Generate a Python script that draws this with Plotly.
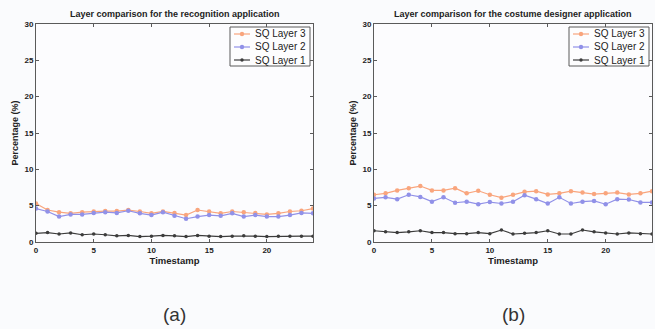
import plotly.graph_objects as go

timestamps = list(range(25))

# (a) recognition application
rec_layer3 = [5.3, 4.4, 4.1, 3.95, 4.1, 4.2, 4.25, 4.25, 4.4, 4.2, 3.95, 4.2, 4.0,
              3.7, 4.4, 4.2, 3.95, 4.2, 4.1, 4.0, 3.8, 3.95, 4.2, 4.3, 4.6]
rec_layer2 = [4.6, 4.2, 3.5, 3.8, 3.8, 4.0, 4.1, 4.0, 4.3, 3.95, 3.7, 4.1, 3.6,
              3.2, 3.5, 3.7, 3.6, 3.95, 3.5, 3.7, 3.5, 3.5, 3.7, 4.0, 3.95]
rec_layer1 = [1.2, 1.3, 1.1, 1.25, 1.0, 1.1, 1.0, 0.85, 0.9, 0.75, 0.8, 0.9, 0.85,
              0.75, 0.9, 0.8, 0.75, 0.8, 0.85, 0.8, 0.75, 0.8, 0.8, 0.8, 0.8]

# (b) costume designer application
cos_layer3 = [6.5, 6.7, 7.1, 7.4, 7.7, 7.1, 7.1, 7.4, 6.7, 7.05, 6.5, 6.1, 6.5,
              6.9, 7.0, 6.55, 6.7, 7.0, 6.8, 6.6, 6.7, 6.8, 6.55, 6.7, 7.0]
cos_layer2 = [6.0, 6.15, 5.9, 6.5, 6.2, 5.55, 6.15, 5.4, 5.55, 5.2, 5.5, 5.3, 5.55,
              6.45, 5.9, 5.3, 6.15, 5.3, 5.55, 5.65, 5.2, 5.9, 5.85, 5.45, 5.45]
cos_layer1 = [1.55, 1.4, 1.3, 1.4, 1.55, 1.3, 1.3, 1.15, 1.15, 1.3, 1.15, 1.65, 1.1,
              1.2, 1.3, 1.55, 1.1, 1.1, 1.65, 1.4, 1.25, 1.1, 1.25, 1.15, 1.1]

series_names = ["SQ Layer 3", "SQ Layer 2", "SQ Layer 1"]
colors = ["rgb(249,165,125)", "rgb(145,145,232)", "rgb(60,60,60)"]
titles = ["Layer comparison for the recognition application",
          "Layer comparison for the costume designer application"]
captions = ["(a)", "(b)"]
x_ticks = [0, 5, 10, 15, 20]
y_ticks = [0, 5, 10, 15, 20, 25, 30]

W, H = 655, 329
font = "Liberation Sans, Arial, sans-serif"
axis_color = "rgb(90,90,90)"


def px(xp):
    return xp / W


def py(yp):
    return 1 - yp / H


fig = go.Figure()

panels = [
    (rec_layer3, rec_layer2, rec_layer1),
    (cos_layer3, cos_layer2, cos_layer1),
]
x_px = [(36, 313), (374, 652)]
y_px = (24, 242)

for p, data in enumerate(panels):
    xa = "x" if p == 0 else "x2"
    ya = "y" if p == 0 else "y2"
    for s, vals in enumerate(data):
        fig.add_trace(go.Scatter(
            x=timestamps, y=vals, mode="lines+markers",
            name=series_names[s], xaxis=xa, yaxis=ya, showlegend=False,
            line=dict(color=colors[s], width=1.2),
            marker=dict(color=colors[s], size=4.5 if s < 2 else 3.5,
                        symbol="circle"),
        ))

axis_common = dict(
    showgrid=False, zeroline=False, showline=True, mirror="ticks",
    linecolor=axis_color, linewidth=1, ticks="inside", ticklen=3,
    tickcolor=axis_color, automargin=False,
    tickfont=dict(family=font, size=8, color="#222"),
)

layout = dict(
    width=W, height=H, margin=dict(l=0, r=0, t=0, b=0),
    paper_bgcolor="rgb(250,251,253)", plot_bgcolor="rgb(252,252,254)",
    showlegend=False,
    font=dict(family=font),
)
for p in range(2):
    sx = "" if p == 0 else "2"
    layout["xaxis" + sx] = dict(
        axis_common, domain=[px(x_px[p][0]), px(x_px[p][1])], range=[0, 24],
        tickvals=x_ticks, ticktext=["<b>%d</b>" % v for v in x_ticks],
        anchor="y" + sx,
        title=dict(text="<b>Timestamp</b>", font=dict(family=font, size=9.5, color="#222"),
                   standoff=0),
    )
    layout["yaxis" + sx] = dict(
        axis_common, domain=[py(y_px[1]), py(y_px[0])], range=[0, 30],
        tickvals=y_ticks, ticktext=["<b>%d</b>" % v for v in y_ticks],
        anchor="x" + sx,
        title=dict(text="<b>Percentage (%)</b>", font=dict(family=font, size=9, color="#222"),
                   standoff=4),
    )

fig.update_layout(**layout)

shapes = []
for p in range(2):
    left, right = x_px[p]
    cx = (left + right) / 2
    fig.add_annotation(
        x=px(cx), y=py(14), xref="paper", yref="paper", showarrow=False,
        xanchor="center", yanchor="middle",
        text="<b>" + titles[p] + "</b>",
        font=dict(family=font, size=9, color="#222"),
    )
    fig.add_annotation(
        x=px(cx), y=py(314), xref="paper", yref="paper", showarrow=False,
        xanchor="center", yanchor="middle",
        text=captions[p], font=dict(family=font, size=19, color="#333"),
    )
    # legend box
    bx1 = right - 3
    bx0 = bx1 - 80
    by0, by1 = 27, 66
    shapes.append(dict(type="rect", xref="paper", yref="paper",
                       x0=px(bx0), x1=px(bx1), y0=py(by0), y1=py(by1),
                       line=dict(color=axis_color, width=1),
                       fillcolor="rgb(253,253,254)", layer="above"))
    for s in range(3):
        yy = 34 + s * 13
        shapes.append(dict(type="line", xref="paper", yref="paper",
                           x0=px(bx0 + 4), x1=px(bx0 + 20), y0=py(yy), y1=py(yy),
                           line=dict(color=colors[s], width=1.2), layer="above"))
        r = 2.2 if s < 2 else 1.7
        mx = bx0 + 12
        shapes.append(dict(type="circle", xref="paper", yref="paper",
                           x0=px(mx - r), x1=px(mx + r), y0=py(yy - r), y1=py(yy + r),
                           line=dict(color=colors[s], width=0),
                           fillcolor=colors[s], layer="above"))
        fig.add_annotation(
            x=px(bx0 + 23), y=py(yy), xref="paper", yref="paper", showarrow=False,
            xanchor="left", yanchor="middle", text=series_names[s],
            font=dict(family=font, size=10, color="#222"),
        )

fig.update_layout(shapes=shapes)
fig.write_html("out.html",
               config={"displayModeBar": False},
               post_script="document.body.style.margin='0';"
                           "document.body.style.overflow='hidden';"
                           "document.body.style.background='rgb(250,251,253)';")
